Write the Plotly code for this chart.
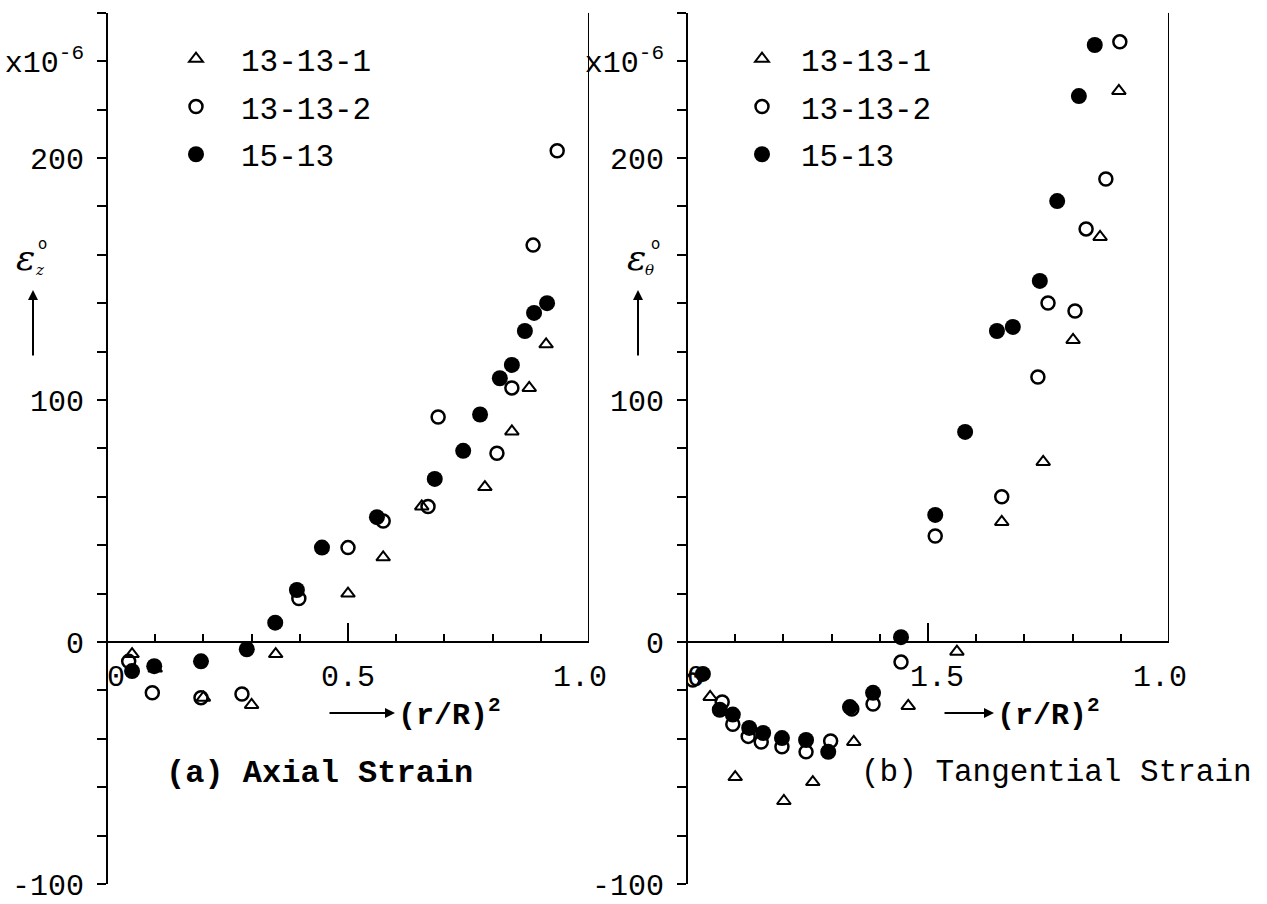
import plotly.graph_objects as go

# ---------------- data ----------------
# (a) Axial strain
ax_tri_x = [0.052, 0.10, 0.20, 0.30, 0.35, 0.50, 0.573, 0.653, 0.784, 0.840, 0.876, 0.911]
ax_tri_y = [-5, -11, -23, -26, -5, 20, 35, 56, 64, 87, 105, 123]
ax_cir_x = [0.045, 0.094, 0.195, 0.28, 0.398, 0.50, 0.573, 0.666, 0.687, 0.809, 0.84, 0.884, 0.934]
ax_cir_y = [-8, -21, -23, -21.5, 18, 39, 50, 56, 93, 78, 105, 164, 203]
ax_fil_x = [0.052, 0.098, 0.195, 0.29, 0.349, 0.394, 0.446, 0.56, 0.68, 0.739, 0.774, 0.815, 0.84, 0.867, 0.886, 0.913]
ax_fil_y = [-12, -10, -8, -3, 8, 21.5, 39, 51.6, 67.4, 79, 94, 109, 114.5, 128.5, 136, 140]

# (b) Tangential strain
tg_tri_x = [0.048, 0.10, 0.201, 0.261, 0.346, 0.459, 0.56, 0.653, 0.739, 0.801, 0.857, 0.896]
tg_tri_y = [-22.7, -55.8, -65.7, -57.9, -41.3, -26.4, -4, 49.6, 74.4, 124.8, 167.4, 227.7]
tg_cir_x = [0.012, 0.073, 0.095, 0.127, 0.154, 0.197, 0.247, 0.298, 0.342, 0.386, 0.444, 0.515, 0.653, 0.728, 0.749, 0.805, 0.828, 0.869, 0.898]
tg_cir_y = [-15.7, -24.8, -34, -39, -41.3, -43.3, -45.4, -40.9, -27.7, -25.6, -8.3, 43.8, 60, 109.5, 140.1, 136.8, 170.7, 191.3, 248]
tg_fil_x = [0.033, 0.068, 0.095, 0.129, 0.158, 0.197, 0.247, 0.293, 0.338, 0.386, 0.444, 0.515, 0.577, 0.643, 0.676, 0.732, 0.768, 0.813, 0.846]
tg_fil_y = [-13.2, -28, -30, -35.5, -37.6, -39.7, -40.5, -45.4, -26.9, -21, 2, 52.5, 86.8, 128.5, 130.2, 149.2, 182.2, 225.6, 246.7]

series_names = ["13-13-1", "13-13-2", "15-13"]
y_tickvals = [-100, 0, 100, 200, 240]
y_ticktext = ["-100", "0", "100", "200", "x10<sup>-6</sup>"]
xa_tickvals = [0, 0.5, 1.0]
xa_ticktext = ["\u00a00", "0.5", "1.0\u00a0"]
xb_ticktext = ["\u00a00", "\u00a01.5", "1.0\u00a0"]

# ---------------- layout geometry ----------------
W, H = 1267, 904
FONT = "Liberation Mono, Courier New, monospace"
px_x = lambda p: p / W
px_y = lambda p: 1 - p / H

y_dom = [px_y(884), px_y(642 - 260 * 2.42)]
xa_dom = [px_x(107), px_x(589)]
xb_dom = [px_x(687), px_x(1169)]
x_pos = px_y(642)

fig = go.Figure()

styles = [
    dict(symbol="triangle-up-open", size=12, color="black", line=dict(width=2, color="black")),
    dict(symbol="circle-open", size=13, color="black", line=dict(width=2.5, color="black")),
    dict(symbol="circle", size=16, color="black", line=dict(width=0)),
]

left = [(ax_tri_x, ax_tri_y), (ax_cir_x, ax_cir_y), (ax_fil_x, ax_fil_y)]
right = [(tg_tri_x, tg_tri_y), (tg_cir_x, tg_cir_y), (tg_fil_x, tg_fil_y)]

for i, (xs, ys) in enumerate(left):
    fig.add_trace(go.Scatter(x=xs, y=ys, mode="markers", name=series_names[i], marker=styles[i],
                             xaxis="x", yaxis="y", legend="legend", legendgroup="a%d" % i))
for i, (xs, ys) in enumerate(right):
    fig.add_trace(go.Scatter(x=xs, y=ys, mode="markers", name=series_names[i], marker=styles[i],
                             xaxis="x2", yaxis="y2", legend="legend2", legendgroup="b%d" % i))

def yax(pos):
    return dict(domain=y_dom, range=[-100, 260], anchor="free", position=pos, automargin=False,
                showline=True, linecolor="black", linewidth=2, showgrid=False, zeroline=False,
                ticks="outside", ticklen=9, tickwidth=2, tickcolor="black",
                tickvals=y_tickvals, ticktext=y_ticktext, ticklabelstandoff=7,
                minor=dict(tick0=0, dtick=20, ticks="outside", ticklen=9, tickwidth=2, tickcolor="black"),
                tickfont=dict(family=FONT, size=30, color="black"), fixedrange=True)

def xax(dom, ttext):
    return dict(domain=dom, range=[0, 1], anchor="free", position=x_pos, automargin=False,
                showline=True, linecolor="black", linewidth=2, showgrid=False, zeroline=False,
                ticks="inside", ticklen=18, tickwidth=2, tickcolor="black",
                tickvals=xa_tickvals, ticktext=ttext, ticklabelstandoff=7,
                minor=dict(tick0=0, dtick=0.1, ticks="inside", ticklen=7, tickwidth=2, tickcolor="black"),
                tickfont=dict(family=FONT, size=30, color="black"), fixedrange=True)

legend_common = dict(xanchor="left", yanchor="top", bgcolor="rgba(0,0,0,0)", borderwidth=0,
                     font=dict(family=FONT, size=31, color="black"), tracegroupgap=4.5,
                     traceorder="grouped")

shapes = [
    dict(type="line", xref="x", yref="y", x0=1, x1=1, y0=0, y1=260, line=dict(color="black", width=2)),
    dict(type="line", xref="x2", yref="y2", x0=1, x1=1, y0=0, y1=260, line=dict(color="black", width=2)),
]

ann = []
def txt(x, y, t, size, bold=False, italic=False, xanchor="center"):
    if bold:
        t = "<b>%s</b>" % t
    if italic:
        t = "<i>%s</i>" % t
    ann.append(dict(x=px_x(x), y=px_y(y), xref="paper", yref="paper", text=t, showarrow=False,
                    xanchor=xanchor, yanchor="middle", font=dict(family=FONT, size=size, color="black")))

def arrow(x0, y0, x1, y1):
    ann.append(dict(x=px_x(x1), y=px_y(y1), xref="paper", yref="paper", text="", showarrow=True,
                    ax=x0 - x1, ay=y0 - y1, arrowhead=2, arrowsize=1, arrowwidth=2, arrowcolor="black"))

# captions
txt(319, 773, "(a) Axial Strain", 32, bold=True)
txt(1056, 772, "(b) Tangential Strain", 31, bold=False)
# x-axis titles
arrow(328, 713, 395, 713)
txt(396, 713, "(r/R)<sup>2</sup>", 30, bold=True, xanchor="left")
arrow(943, 713, 994, 713)
txt(995, 713, "(r/R)<sup>2</sup>", 30, bold=True, xanchor="left")
# y-axis titles
for (ex, sub, sx, ox, arx) in [(25, "z", 39, 42, 33), (636, "θ", 649, 656, 638)]:
    ann.append(dict(x=px_x(ex), y=px_y(257), xref="paper", yref="paper", text="<i>ε</i>", showarrow=False,
                    xanchor="center", yanchor="middle", font=dict(family="DejaVu Serif", size=36, color="black")))
    ann.append(dict(x=px_x(sx), y=px_y(270), xref="paper", yref="paper", text="<i>%s</i>" % sub, showarrow=False,
                    xanchor="center", yanchor="middle", font=dict(family="DejaVu Serif", size=15, color="black")))
    ann.append(dict(x=px_x(ox), y=px_y(244), xref="paper", yref="paper", text="o", showarrow=False,
                    xanchor="center", yanchor="middle", font=dict(family="DejaVu Sans", size=15, color="black")))
    arrow(arx, 357, arx, 290)

fig.update_layout(
    width=W, height=H, margin=dict(l=0, r=0, t=0, b=0, pad=0, autoexpand=False),
    paper_bgcolor="white", plot_bgcolor="rgba(0,0,0,0)",
    xaxis=xax(xa_dom, xa_ticktext), yaxis=yax(px_x(107)),
    xaxis2=xax(xb_dom, xb_ticktext), yaxis2=yax(px_x(687)),
    legend=dict(x=px_x(151), y=px_y(32), itemwidth=80, **legend_common),
    legend2=dict(x=px_x(723), y=px_y(32), itemwidth=68, **legend_common),
    shapes=shapes, annotations=ann, showlegend=True,
)

fig.write_html("out.html")
